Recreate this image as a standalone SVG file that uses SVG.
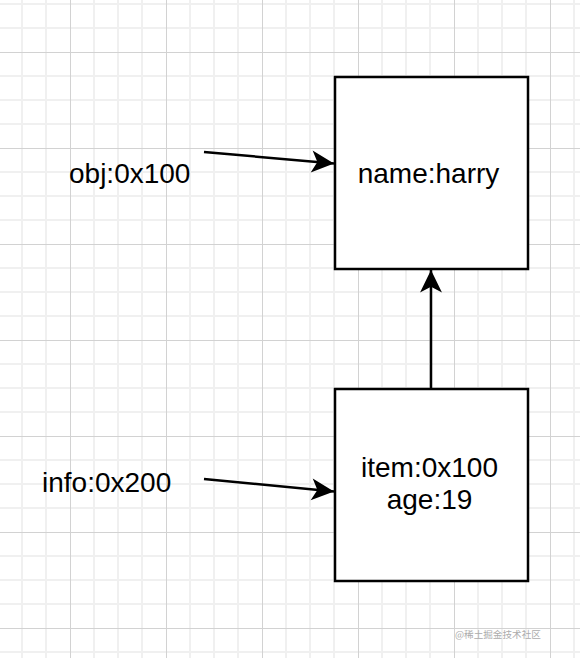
<svg xmlns="http://www.w3.org/2000/svg" width="580" height="658" viewBox="0 0 580 658">
<defs>
<style>
.minor{stroke:#f0f0f0;stroke-width:2;fill:none}
.major{stroke:#d2d2d2;stroke-width:1;fill:none}
.box{fill:#ffffff;stroke:#000000;stroke-width:2.5}
.lbl{font-family:"Liberation Sans",Arial,Helvetica,sans-serif;font-size:28px;fill:#000000}
.conn{stroke:#000000;stroke-width:2.5;fill:none}
.wm{font-family:"Noto Sans CJK SC","Noto Sans",sans-serif;font-size:9.6px;fill:#ababab}
</style>
<marker id="arrow" markerUnits="userSpaceOnUse" markerWidth="24" markerHeight="24" viewBox="-22 -11 23 22" refX="0" refY="0" orient="auto">
<path d="M0,0 L-21.5,-10.5 L-16,0 L-21.5,10.5 Z" fill="#000000"/>
</marker>
</defs>
<rect x="0" y="0" width="580" height="658" fill="#ffffff"/>
<g id="grid">
<path class="minor" d="M22,0V658M46,0V658M94,0V658M118,0V658M142,0V658M190,0V658M214,0V658M238,0V658M286,0V658M310,0V658M334,0V658M382,0V658M406,0V658M430,0V658M478,0V658M502,0V658M526,0V658M574,0V658M0,4H580M0,28H580M0,76H580M0,100H580M0,124H580M0,172H580M0,196H580M0,220H580M0,268H580M0,292H580M0,316H580M0,364H580M0,388H580M0,412H580M0,460H580M0,484H580M0,508H580M0,556H580M0,580H580M0,604H580M0,652H580"/>
<path class="major" d="M70.5,0V658M166.5,0V658M262.5,0V658M358.5,0V658M454.5,0V658M550.5,0V658M0,52.5H580M0,148.5H580M0,244.5H580M0,340.5H580M0,436.5H580M0,532.5H580M0,628.5H580"/>
</g>
<g id="connectors">
<path class="conn" d="M204,152 L334,163.5" marker-end="url(#arrow)"/>
<path class="conn" d="M204,479 L334,491.5" marker-end="url(#arrow)"/>
<path class="conn" d="M431,389 L431,270" marker-end="url(#arrow)"/>
</g>
<g id="node-obj">
<text class="lbl" x="69" y="182.5">obj:0x100</text>
</g>
<g id="node-info">
<text class="lbl" x="42" y="491.5">info:0x200</text>
</g>
<g id="node-harry">
<rect class="box" x="335" y="77" width="193" height="192"/>
<text class="lbl" x="428.5" y="182.5" text-anchor="middle">name:harry</text>
</g>
<g id="node-item">
<rect class="box" x="335" y="389" width="193" height="192"/>
<text class="lbl" x="429.5" y="476.5" text-anchor="middle">item:0x100</text>
<text class="lbl" x="429.5" y="509" text-anchor="middle">age:19</text>
</g>
<text class="wm" x="455" y="638">@稀土掘金技术社区</text>
</svg>
